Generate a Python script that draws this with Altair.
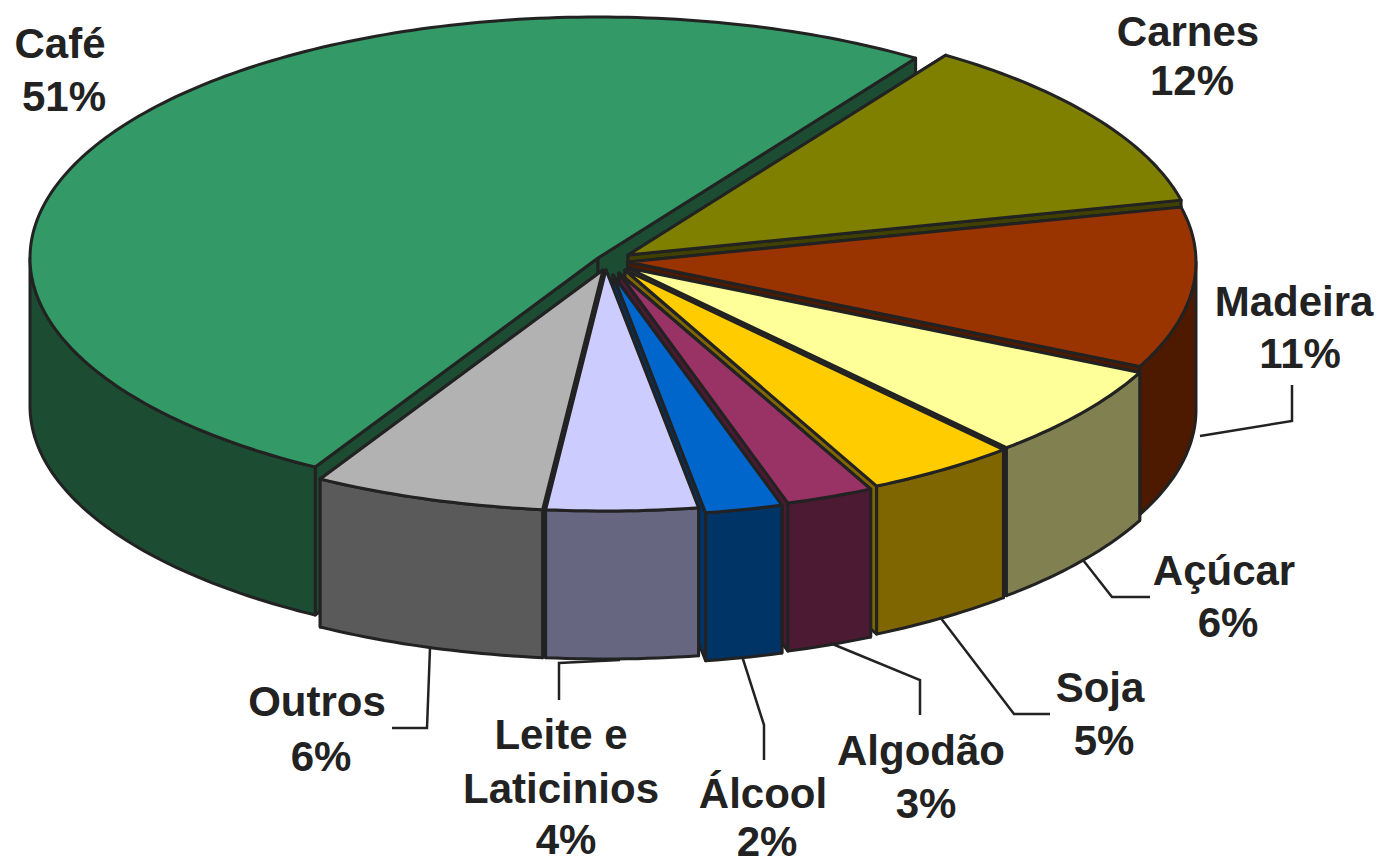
import math
import altair as alt

# ---- data -------------------------------------------------------------
slices = ["Carnes", "Madeira", "Açúcar", "Soja", "Algodão", "Álcool", "Leite", "Outros", "Café"]
shares = [11.9, 10.8, 6.25, 4.3, 2.5, 2.2, 4.3, 6.6, 51.15]
top_colors = ["#808000", "#993300", "#FFFF99", "#FFCC00", "#993366", "#0066CC", "#CCCCFF", "#B2B2B2", "#339966"]
side_colors = ["#404000", "#4D1A00", "#808050", "#806600", "#4D1A33", "#003366", "#666680", "#5A5A5A", "#1C4D33"]

label_texts = ["Café", "51%", "Carnes", "12%", "Madeira", "11%", "Açúcar", "6%", "Soja", "5%",
               "Algodão", "3%", "Álcool", "2%", "Leite e", "Laticinios", "4%", "Outros", "6%"]
label_x = [60, 64, 1188, 1192, 1294, 1300, 1224, 1228, 1100, 1104, 921, 926, 763, 767, 561, 561, 566, 317, 321]
label_y = [45, 98, 33, 82, 303, 355, 572, 624, 689, 742, 752, 805, 795, 843, 736, 790, 841, 703, 758]

leaders = [
    [(1200, 436), (1292, 421), (1292, 385)],
    [(1083, 560), (1112, 597), (1150, 597)],
    [(940, 617), (1014, 714), (1050, 714)],
    [(830, 643), (920, 680), (920, 715)],
    [(742, 656), (764, 725), (764, 760)],
    [(620, 660), (559, 663), (559, 700)],
    [(430, 648), (427, 728), (392, 728)],
]

# ---- pie geometry ------------------------------------------------------
RX, RY, DEPTH = 568, 241, 148
START = 56.0
apex_x = [628, 628, 628, 625, 619, 613, 606, 603, 598]
apex_y = [255, 262, 268, 270, 273, 275, 270, 270, 258]
draw_order = ["Café", "Carnes", "Madeira", "Açúcar", "Soja", "Algodão", "Álcool", "Outros", "Leite"]


def rim(cx, cy, t0, t1, step=1.0):
    n = max(2, int(abs(t1 - t0) / step) + 1)
    ts = [t0 + (t1 - t0) * i / (n - 1) for i in range(n)]
    return [(cx + RX * math.cos(math.radians(t)), cy - RY * math.sin(math.radians(t))) for t in ts]


def feature(points, key):
    ring = [list(p) for p in points]
    if ring[0] != ring[-1]:
        ring.append(ring[0])
    return {"type": "Feature", "properties": {"key": key},
            "geometry": {"type": "Polygon", "coordinates": [ring]}}


bounds = {}
t = START
for name, share in zip(slices, shares):
    bounds[name] = (t, t - share * 3.6)
    t -= share * 3.6

features = []
for name in draw_order:
    i = slices.index(name)
    cx, cy = apex_x[i], apex_y[i]
    t0, t1 = bounds[name]
    arc = rim(cx, cy, t0, t1)
    side = name + " side"
    for p in (arc[0], arc[-1]):
        features.append(feature([(cx, cy), p, (p[0], p[1] + DEPTH), (cx, cy + DEPTH)], side))
    # outer wall: the part of the rim that faces the viewer (sin t < 0)
    lo, hi = min(t0, t1), max(t0, t1)
    for k in range(-1, 1):
        a, b = max(lo, -180 + 360 * k), min(hi, 0 + 360 * k)
        if b > a:
            wall = rim(cx, cy, b, a)
            features.append(feature(wall + [(x, y + DEPTH) for x, y in reversed(wall)], side))
    features.append(feature([(cx, cy)] + arc, name))

fill_domain = slices + [s + " side" for s in slices]
fill_range = top_colors + side_colors

projection = alt.Projection(type="identity", scale=1, translate=[-8, -8])

bodies = (
    alt.Chart(alt.InlineData(values=features))
    .mark_geoshape(stroke="#222222", strokeWidth=3, strokeJoin="round")
    .encode(
        fill=alt.Fill("properties.key:N", scale=alt.Scale(domain=fill_domain, range=fill_range), legend=None)
    )
    .project(**projection.to_dict())
)

leader_features = [
    {"type": "Feature", "properties": {}, "geometry": {"type": "LineString", "coordinates": [list(p) for p in line]}}
    for line in leaders
]
leader_layer = (
    alt.Chart(alt.InlineData(values=leader_features))
    .mark_geoshape(filled=False, stroke="#222222", strokeWidth=2.5)
    .project(**projection.to_dict())
)

labels = (
    alt.Chart(alt.InlineData(values=[
        {"text": s, "lon": x, "lat": y} for s, x, y in zip(label_texts, label_x, label_y)
    ]))
    .mark_text(font="Liberation Sans", fontWeight="bold", fontSize=42, color="#222222",
               align="center", baseline="middle")
    .encode(longitude="lon:Q", latitude="lat:Q", text="text:N")
    .project(**projection.to_dict())
)

chart = (
    alt.layer(bodies, leader_layer, labels)
    .properties(width=1368, height=857, padding=0, autosize=alt.AutoSizeParams(type="none"))
    .configure_view(stroke=None)
)

chart.save("out.html", embed_options={"renderer": "svg", "actions": False})
